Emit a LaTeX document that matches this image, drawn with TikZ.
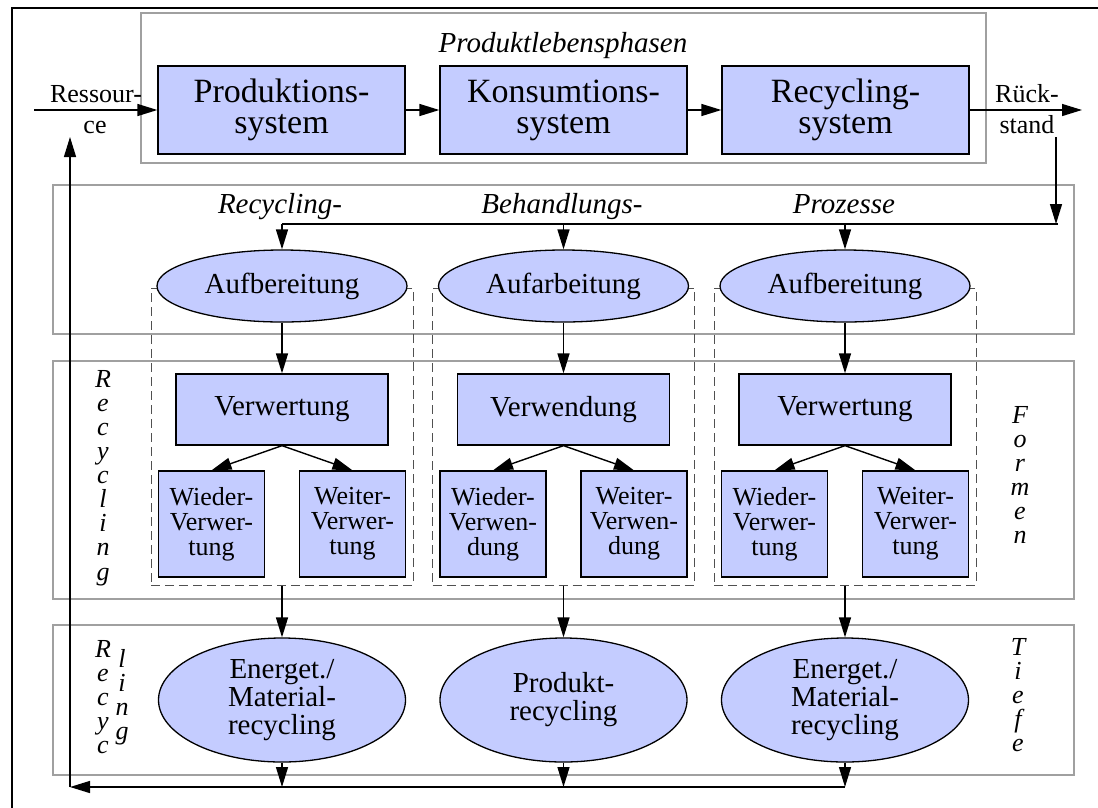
\documentclass[tikz,border=0pt]{standalone}
\usepackage{fontspec}
\setmainfont{Liberation Serif}
\usetikzlibrary{arrows.meta,shapes.geometric}
\definecolor{boxblue}{RGB}{196,204,255}
\definecolor{framegray}{RGB}{160,160,160}
\definecolor{dashgray}{RGB}{80,80,80}
\tikzset{
  arr/.style={-{Triangle[length=20pt,width=12pt]}, line width=1.4pt},
  plain/.style={line width=1.4pt},
  sysbox/.style={draw, line width=1.3pt, fill=boxblue, minimum width=247pt, minimum height=88pt, inner sep=0pt, align=center, font=\fontsize{34}{31}\selectfont},
  procell/.style={ellipse, draw, line width=1.3pt, fill=boxblue, minimum width=250pt, minimum height=72pt, inner sep=0pt, font=\fontsize{29}{28}\selectfont},
  formbox/.style={draw, line width=1.3pt, fill=boxblue, minimum width=212pt, minimum height=71pt, inner sep=0pt, font=\fontsize{29}{28}\selectfont},
  subbox/.style={draw, line width=1.3pt, fill=boxblue, minimum width=106pt, minimum height=106pt, inner sep=0pt, align=center, font=\fontsize{26}{25}\selectfont},
  endell/.style={ellipse, draw, line width=1.3pt, fill=boxblue, minimum width=247pt, minimum height=124pt, inner sep=0pt, align=center, font=\fontsize{29}{28}\selectfont},
  grpbox/.style={draw=dashgray, line width=1pt, dash pattern=on 9pt off 5pt, minimum width=262pt, minimum height=297pt, inner sep=0pt},
  layer/.style={draw=framegray, line width=1.5pt},
  lab/.style={inner sep=0pt, anchor=base, font=\fontsize{26}{31}\selectfont},
  ilab/.style={inner sep=0pt, anchor=base, font=\fontsize{29}{28}\selectfont\itshape},
  vlab/.style={inner sep=0pt, anchor=north, align=center, font=\fontsize{26}{24.1}\selectfont\itshape},
}
\begin{document}
\begin{tikzpicture}[x=1pt,y=-1pt]
\useasboundingbox (0,0) rectangle (1098,807);
\fill[white] (0,0) rectangle (1098,807);
% outer frame
\draw[line width=2.5pt] (1100,8) -- (12,8) -- (12,810);
% layer frames
\draw[layer] (141,13) rectangle (986,163);
\draw[layer] (53,185) rectangle (1074,334);
\draw[layer] (53,361) rectangle (1074,599);
\draw[layer] (53,625) rectangle (1074,775);

% top labels
\node[ilab] (plp) at (563,52) {Produktlebensphasen};
\node[ilab] (rbp1) at (280,213) {Recycling-};
\node[ilab] (rbp2) at (562,213) {Behandlungs-};
\node[ilab] (rbp3) at (844,213) {Prozesse};

% system boxes
\node[sysbox] (prod) at (281.5,110) {Produktions-\\system};
\node[sysbox] (kons) at (563.5,110) {Konsumtions-\\system};
\node[sysbox] (recy) at (845.5,110) {Recycling-\\system};

\node[lab] (res1) at (96,102) {Ressour-};
\node[lab] (res2) at (95,133) {ce};
\node[lab] (rue1) at (1027,102) {Rück-};
\node[lab] (rue2) at (1027,133) {stand};

\coordinate (resIn) at (34,110);
\coordinate (rueOut) at (1082,110);
\coordinate (rueTop) at (1056,137);
\coordinate (rueBot) at (1056,224);
\coordinate (distR) at (1058,224);
\coordinate (distL) at (282,224);
\coordinate (retR) at (845,787);
\coordinate (retL) at (70,787);
\coordinate (retTop) at (70,137);

\draw[arr] (resIn) -- (prod.west);
\draw[arr] (prod.east) -- (kons.west);
\draw[arr] (kons.east) -- (recy.west);
\draw[arr] (recy.east) -- (rueOut);
\draw[arr] (rueTop) -- (rueBot);
\draw[plain] (distR) -- (distL);

% columns
\foreach \cx/\i/\vTop/\vMid/\vA/\vB/\vC/\vD/\vEnd in {
  282/1/Aufbereitung/Verwertung/Wieder-/Verwer-/tung/Weiter-/{Energet./\\Material-\\recycling},
  563.5/2/Aufarbeitung/Verwendung/Wieder-/Verwen-/dung/Weiter-/{Produkt-\\recycling},
  845/3/Aufbereitung/Verwertung/Wieder-/Verwer-/tung/Weiter-/{Energet./\\Material-\\recycling}}{
  \node[grpbox] (grp\i) at (\cx,436.5) {};
  \node[procell] (auf\i) at (\cx,286) {\vTop};
  \node[formbox] (frm\i) at (\cx,409.5) {\vMid};
  \node[subbox] (wie\i) at (\cx-70.5,524) {\vA\\\vB\\\vC};
  \node[subbox] (wei\i) at (\cx+70.5,524) {\vD\\\vB\\\vC};
  \node[endell] (end\i) at (\cx,700) {\vEnd};
  \draw[arr] (auf\i.north |- distL) -- (auf\i.north);
  \draw[arr] (auf\i.south) -- (frm\i.north);
  \draw[arr] (frm\i.south) -- (wie\i.north);
  \draw[arr] (frm\i.south) -- (wei\i.north);
  \draw[arr] (grp\i.south) -- (end\i.north);
  \draw[arr] (end\i.south) -- (end\i.south |- retL);
}

\draw[arr] (retR) -- (retL);
\draw[arr] (retL) -- (retTop);

% vertical side labels
\node[vlab] (recform) at (103,370) {R\\e\\c\\y\\c\\l\\i\\n\\g};
\node[vlab] (formen) at (1020,406) {F\\o\\r\\m\\e\\n};
\node[vlab] (tiefe) at (1018,638) {T\\i\\e\\f\\e};
\node[vlab] (recA) at (103,640) {R\\e\\c\\y\\c};
\node[vlab] (recB) at (122,649) {l\\i\\n\\g};
\end{tikzpicture}
\end{document}
